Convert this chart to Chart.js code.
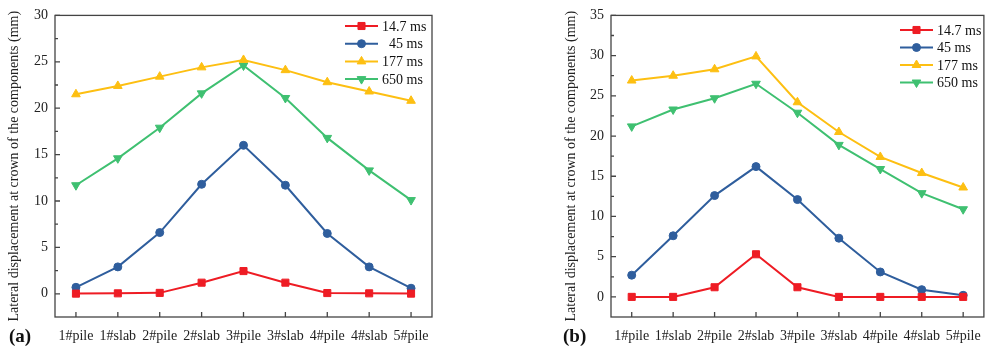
<!DOCTYPE html>
<html>
<head>
<meta charset="utf-8">
<script src="https://cdn.jsdelivr.net/npm/chart.js@4.4.0/dist/chart.umd.min.js"></script>
<style>
  body { margin: 0; background: #fff; width: 992px; height: 347px; overflow: hidden; position: relative; font-family: "Liberation Serif", serif; }
  .box { position: absolute; top: 0; height: 347px; }
  #boxA { left: 0; width: 450px; }
  #boxB { left: 500px; width: 492px; }
  .tag { position: absolute; top: 325px; font-size: 19px; font-weight: bold; color: #111; }
</style>
</head>
<body>
<div class="box" id="boxA"><canvas id="chartA"></canvas></div>
<div class="box" id="boxB"><canvas id="chartB"></canvas></div>
<div class="tag" style="left:9px">(a)</div>
<div class="tag" style="left:563px">(b)</div>
<script>
// categories along the x axis (same for both panels)
const categories = ['1#pile', '1#slab', '2#pile', '2#slab', '3#pile', '3#slab', '4#pile', '4#slab', '5#pile'];

// panel (a)
const a_147 = [0.02, 0.05, 0.1, 1.2, 2.45, 1.2, 0.08, 0.05, 0.02];
const a_45 = [0.7, 2.9, 6.6, 11.8, 16.0, 11.7, 6.5, 2.9, 0.6];
const a_177 = [21.5, 22.4, 23.4, 24.4, 25.2, 24.1, 22.8, 21.8, 20.8];
const a_650 = [11.7, 14.6, 17.9, 21.6, 24.6, 21.1, 16.8, 13.3, 10.1];
const a_labels = ['14.7 ms', '  45 ms', '177 ms', '650 ms'];
const a_yTicks = [0, 5, 10, 15, 20, 25, 30];

// panel (b)
const b_147 = [0, 0, 1.2, 5.3, 1.2, 0, 0, 0, 0];
const b_45 = [2.7, 7.6, 12.6, 16.2, 12.1, 7.3, 3.1, 0.9, 0.2];
const b_177 = [26.9, 27.5, 28.3, 29.9, 24.2, 20.5, 17.4, 15.4, 13.6];
const b_650 = [21.2, 23.3, 24.7, 26.5, 22.9, 18.9, 15.9, 12.9, 10.9];
const b_labels = ['14.7 ms', '45 ms', '177 ms', '650 ms'];
const b_yTicks = [0, 5, 10, 15, 20, 25, 30, 35];

const yTitle = 'Lateral displacement at crown of the components (mm)';
const FONT = '"Liberation Serif", "Times New Roman", serif';

const styles = [
  { color: '#ee1c24', pointStyle: 'rect', radius: 5, rotation: 0 },
  { color: '#2f5e9d', pointStyle: 'circle', radius: 4, rotation: 0 },
  { color: '#fdbf12', pointStyle: 'triangle', radius: 5, rotation: 0 },
  { color: '#3fc071', pointStyle: 'triangle', radius: 5, rotation: 180 }
];

// box around the plot, inward ticks (major + minor), and the line+marker legend
const framePlugin = {
  id: 'frame',
  afterDatasetsDraw(chart, args, opts) {
    const ctx = chart.ctx;
    const area = chart.chartArea;
    const x = chart.scales.x, y = chart.scales.y;
    ctx.save();
    ctx.strokeStyle = '#444';
    ctx.lineWidth = 1.3;
    ctx.strokeRect(area.left, area.top, area.right - area.left, area.bottom - area.top);
    ctx.beginPath();
    y.ticks.forEach(t => {
      var py = y.getPixelForValue(t.value);
      ctx.moveTo(area.left, py); ctx.lineTo(area.left + 5, py);
      var pm = y.getPixelForValue(t.value + 2.5);
      if (pm > area.top + 1) { ctx.moveTo(area.left, pm); ctx.lineTo(area.left + 3, pm); }
    });
    for (var i = 0; i < categories.length; i++) {
      var px = x.getPixelForValue(i);
      ctx.moveTo(px, area.bottom); ctx.lineTo(px, area.bottom - 5);
    }
    ctx.stroke();

    // legend
    ctx.font = '14px ' + FONT;
    ctx.textBaseline = 'middle';
    ctx.textAlign = 'left';
    chart.data.datasets.forEach((ds, k) => {
      var ly = opts.y + k * opts.gap;
      ctx.strokeStyle = ds.borderColor;
      ctx.fillStyle = ds.borderColor;
      ctx.lineWidth = 2;
      ctx.beginPath();
      ctx.moveTo(opts.x, ly); ctx.lineTo(opts.x + 33, ly);
      ctx.stroke();
      ctx.lineWidth = 1;
      Chart.helpers.drawPoint(ctx, { pointStyle: ds.pointStyle, radius: ds.pointRadius, rotation: ds.pointRotation, borderWidth: 1 }, opts.x + 16.5, ly);
      ctx.fillStyle = '#111';
      ctx.fillText(ds.label, opts.x + 37, ly + 1);
    });
    ctx.restore();
  }
};

function makeChart(id, series, labels, yTicks, yMax, padLeft, axisW, padRight, legendPos) {
  var datasets = series.map((s, k) => ({
    label: labels[k],
    data: s,
    borderColor: styles[k].color,
    backgroundColor: styles[k].color,
    borderWidth: 2,
    pointStyle: styles[k].pointStyle,
    pointRadius: styles[k].radius,
    pointRotation: styles[k].rotation,
    pointBorderWidth: 1,
    tension: 0
  }));
  return new Chart(document.getElementById(id), {
    type: 'line',
    data: { labels: categories, datasets: datasets },
    plugins: [framePlugin],
    options: {
      responsive: true,
      maintainAspectRatio: false,
      animation: false,
      layout: { padding: { left: padLeft, right: padRight, top: 15, bottom: 0 } },
      plugins: {
        legend: { display: false },
        tooltip: { enabled: false },
        frame: legendPos
      },
      scales: {
        x: {
          type: 'category',
          offset: true,
          grid: { display: false, drawTicks: false },
          border: { display: false },
          ticks: { color: '#222', padding: 11, font: { family: FONT, size: 14 }, maxRotation: 0, autoSkip: false },
          afterFit: s => { s.height = 30; }
        },
        y: {
          min: -2.5,
          max: yMax,
          grid: { display: false, drawTicks: false },
          border: { display: false },
          ticks: { color: '#222', padding: 7, font: { family: FONT, size: 14 } },
          afterBuildTicks: s => { s.ticks = yTicks.map(v => ({ value: v })); },
          afterFit: s => { s.width = axisW; },
          title: { display: true, text: yTitle, color: '#222', font: { family: FONT, size: 14 }, padding: { top: 6, bottom: 0 } }
        }
      }
    }
  });
}

makeChart('chartA', [a_147, a_45, a_177, a_650], a_labels, a_yTicks, 30, 0, 55, 18, { x: 345, y: 26, gap: 17.7 });
makeChart('chartB', [b_147, b_45, b_177, b_650], b_labels, b_yTicks, 35, 57, 54, 5, { x: 400, y: 30, gap: 17.5 });
</script>
</body>
</html>
